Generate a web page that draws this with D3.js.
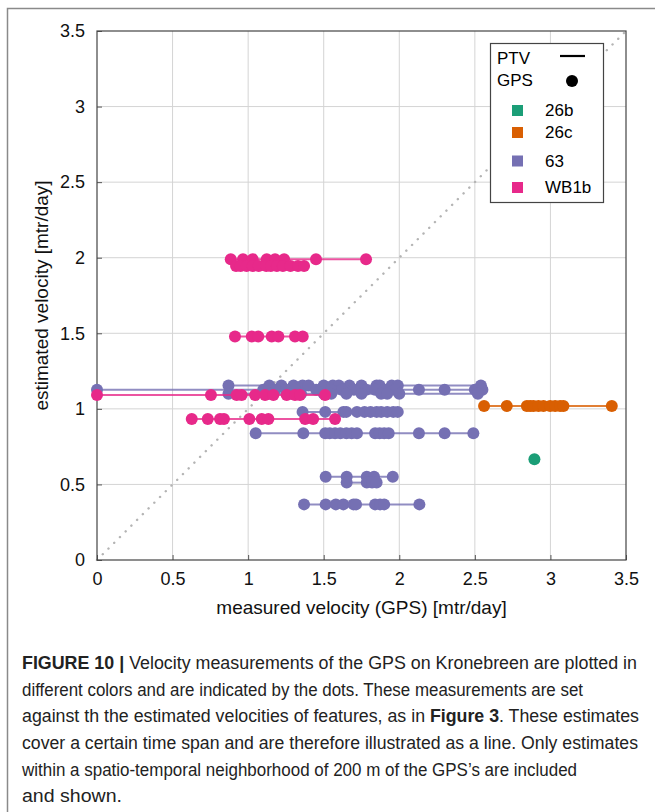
<!DOCTYPE html>
<html><head><meta charset="utf-8">
<script src="https://cdn.jsdelivr.net/npm/d3@7"></script>
<style>
html,body{margin:0;padding:0;background:#fff;}
svg{display:block;font-family:"Liberation Sans",Arial,sans-serif;}
</style></head>
<body>
<svg id="chart" width="655" height="812"></svg>
<script>
// ---- data ----
const seriesNames = ["26b", "26c", "63", "WB1b"];
const seriesColors = ["#1b9e77", "#d95f02", "#7570b3", "#e7298a"];
const xTicks = [0, 0.5, 1, 1.5, 2, 2.5, 3, 3.5];
const yTicks = [0, 0.5, 1, 1.5, 2, 2.5, 3, 3.5];

// each estimate row: estimated velocity (y) and GPS-measured velocities (x dots)
const est26b = [0.666];
const gps26b = [[2.894]];

const est26c = [1.019];
const gps26c = [[2.561, 2.711, 2.844, 2.866, 2.888, 2.921, 2.954, 2.998, 3.031, 3.064, 3.086, 3.406]];

const est63 = [1.155, 1.127, 1.10, 0.98, 0.838, 0.551, 0.512, 0.368];
const gps63 = [
  [0.87, 1.14, 1.22, 1.30, 1.36, 1.40, 1.50, 1.56, 1.60, 1.67, 1.75, 1.85, 1.87, 1.95, 1.99, 2.54],
  [0.0, 1.10, 1.18, 1.25, 1.31, 1.45, 1.55, 1.62, 1.70, 1.78, 1.84, 1.90, 1.97, 2.13, 2.30, 2.50, 2.55],
  [0.87, 1.15, 1.27, 1.35, 1.50, 1.55, 1.65, 1.75, 1.88, 1.92, 2.0, 2.52],
  [1.36, 1.51, 1.63, 1.65, 1.72, 1.77, 1.81, 1.85, 1.88, 1.92, 1.96, 1.99],
  [1.05, 1.365, 1.51, 1.54, 1.575, 1.61, 1.65, 1.685, 1.72, 1.84, 1.87, 1.90, 1.93, 2.13, 2.30, 2.49],
  [1.513, 1.652, 1.785, 1.833, 1.957],
  [1.652, 1.785, 1.82, 1.85],
  [1.37, 1.513, 1.58, 1.63, 1.697, 1.714, 1.84, 1.873, 1.90, 2.133]
];

const estWB1b = [1.99, 1.945, 1.478, 1.092, 0.933];
const gpsWB1b = [
  [0.885, 0.966, 1.03, 1.123, 1.178, 1.238, 1.449, 1.78],
  [0.92, 0.95, 0.99, 1.03, 1.07, 1.12, 1.15, 1.19, 1.23, 1.28, 1.33, 1.37],
  [0.913, 1.024, 1.067, 1.156, 1.20, 1.31, 1.361],
  [0.0, 0.754, 0.924, 0.957, 1.046, 1.112, 1.167, 1.255, 1.31, 1.343, 1.509],
  [0.627, 0.733, 0.814, 0.84, 1.008, 1.09, 1.134, 1.377, 1.43, 1.575]
];

const xLabel = "measured velocity (GPS) [mtr/day]";
const yLabel = "estimated velocity [mtr/day]";
const captionLines = [
  [["FIGURE 10 |", true], [" Velocity measurements of the GPS on Kronebreen are plotted in", false]],
  [["different colors and are indicated by the dots.  These measurements are set", false]],
  [["against th the estimated velocities of features, as in ", false], ["Figure 3", true], [". These estimates", false]],
  [["cover a certain time span and are therefore illustrated as a line. Only estimates", false]],
  [["within a spatio-temporal neighborhood of 200 m of the GPS\u2019s are included", false]],
  [["and shown.", false]]
];
const captionWidths = [615, 561, 617, 616, 555, 100];

// ---- drawing ----
const svg = d3.select("#chart");
const L = 97, R = 626, T = 31, B = 560;
const x = d3.scaleLinear().domain([0, 3.5]).range([L, R]);
const y = d3.scaleLinear().domain([0, 3.5]).range([B, T]);

// outer frame
svg.append("path").attr("d", "M7.5,812 L7.5,8.5 L655,8.5")
  .attr("fill", "none").attr("stroke", "#8a8a8a").attr("stroke-width", 1.5);

// grid
const grid = svg.append("g");
grid.selectAll("line.vx").data(xTicks.slice(1, -1)).enter().append("line")
  .attr("x1", d => x(d)).attr("x2", d => x(d)).attr("y1", T).attr("y2", B)
  .attr("stroke", "#d4d4d4").attr("stroke-width", 1);
grid.selectAll("line.hy").data(yTicks.slice(1, -1)).enter().append("line")
  .attr("y1", d => y(d)).attr("y2", d => y(d)).attr("x1", L).attr("x2", R)
  .attr("stroke", "#d4d4d4").attr("stroke-width", 1);

// diagonal dotted 1:1 line
svg.append("line").attr("x1", x(0)).attr("y1", y(0)).attr("x2", x(3.5)).attr("y2", y(3.5))
  .attr("stroke", "#b4b4b4").attr("stroke-width", 2.4).attr("stroke-dasharray", "0.1,8")
  .attr("stroke-linecap", "round");

// axes
const xAxis = d3.axisBottom(x).tickValues(xTicks).tickSize(-5).tickPadding(12).tickFormat(d3.format("~g"));
const yAxis = d3.axisLeft(y).tickValues(yTicks).tickSize(-5).tickPadding(12).tickFormat(d3.format("~g"));
const gx = svg.append("g").attr("transform", `translate(0,${B})`).call(xAxis);
const gy = svg.append("g").attr("transform", `translate(${L},0)`).call(yAxis);
[gx, gy].forEach(g => {
  g.select(".domain").remove();
  g.selectAll(".tick line").attr("stroke", "#555");
  g.selectAll(".tick text").attr("font-size", 18).attr("fill", "#111")
    .attr("font-family", "Liberation Sans, Arial, sans-serif");
});
gx.selectAll(".tick text").attr("dy", "0.71em");
// plot border
svg.append("rect").attr("x", L).attr("y", T).attr("width", R - L).attr("height", B - T)
  .attr("fill", "none").attr("stroke", "#444").attr("stroke-width", 1.2);

// data
const allSeries = [
  {name: "26b", est: est26b, gps: gps26b},
  {name: "26c", est: est26c, gps: gps26c},
  {name: "63", est: est63, gps: gps63},
  {name: "WB1b", est: estWB1b, gps: gpsWB1b}
];
const color = d3.scaleOrdinal().domain(seriesNames).range(seriesColors);
const order = ["63", "26c", "26b", "WB1b"];
order.forEach(nm => {
  const s = allSeries.find(a => a.name === nm);
  const g = svg.append("g");
  s.est.forEach((ev, i) => {
    const xs = s.gps[i];
    const ext = d3.extent(xs);
    g.append("line").attr("x1", x(ext[0])).attr("x2", x(ext[1]))
      .attr("y1", y(ev)).attr("y2", y(ev))
      .attr("stroke", color(nm)).attr("stroke-width", 2).attr("stroke-opacity", 0.8);
  });
  s.est.forEach((ev, i) => {
    g.selectAll(null).data(s.gps[i]).enter().append("circle")
      .attr("cx", d => x(d)).attr("cy", y(ev)).attr("r", 6)
      .attr("fill", color(nm));
  });
});

// legend
const lg = svg.append("g");
lg.append("rect").attr("x", 490.5).attr("y", 43.5).attr("width", 113).attr("height", 159)
  .attr("fill", "#fff").attr("stroke", "#444").attr("stroke-width", 1.2);
lg.append("text").attr("x", 497).attr("y", 58).attr("dy", "0.35em").attr("font-size", 17).text("PTV");
lg.append("text").attr("x", 497).attr("y", 80).attr("dy", "0.35em").attr("font-size", 17).text("GPS");
lg.append("line").attr("x1", 560).attr("x2", 585).attr("y1", 56).attr("y2", 56)
  .attr("stroke", "#000").attr("stroke-width", 2.2);
lg.append("circle").attr("cx", 572).attr("cy", 81).attr("r", 6).attr("fill", "#000");
const legY = [110.5, 132.5, 161, 187.5];
seriesNames.forEach((nm, i) => {
  lg.append("rect").attr("x", 512).attr("y", legY[i] - 5.5).attr("width", 11).attr("height", 11)
    .attr("fill", color(nm));
  lg.append("text").attr("x", 545).attr("y", legY[i]).attr("dy", "0.35em").attr("font-size", 17).text(nm);
});

// axis titles
svg.append("text").attr("x", (L + R) / 2).attr("y", 607).attr("dy", "0.35em")
  .attr("text-anchor", "middle").attr("font-size", 19).attr("fill", "#111").text(xLabel);
svg.append("text").attr("transform", `translate(41,${(T + B) / 2}) rotate(-90)`).attr("dy", "0.35em")
  .attr("text-anchor", "middle").attr("font-size", 19).attr("fill", "#111").text(yLabel);

// caption
const capY0 = 663, capDy = 26.6;
captionLines.forEach((line, i) => {
  const t = svg.append("text").attr("x", 22).attr("y", capY0 + i * capDy).attr("dy", "0.35em")
    .attr("font-size", 17.5).attr("fill", "#222")
    .attr("textLength", captionWidths[i]).attr("lengthAdjust", "spacingAndGlyphs");
  line.forEach(([txt, bold]) => {
    t.append("tspan").attr("font-weight", bold ? "bold" : "normal").text(txt);
  });
});
</script>
</body></html>
